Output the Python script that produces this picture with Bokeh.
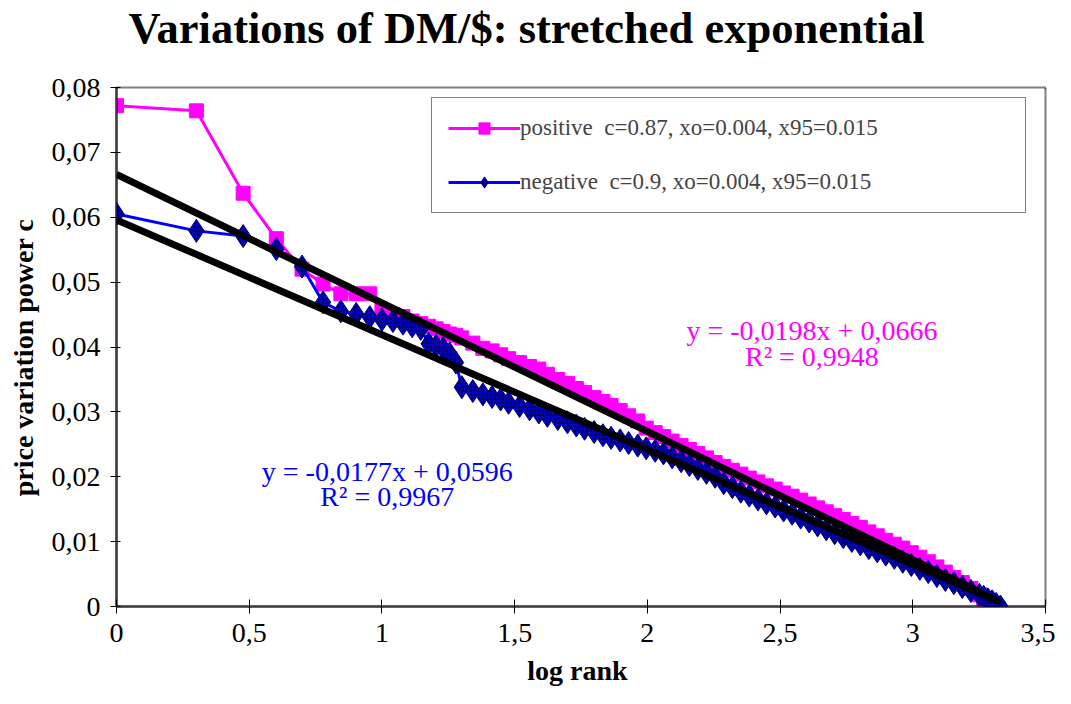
import numpy as np
from bokeh.plotting import figure
from bokeh.models import (Range1d, FixedTicker, CustomJSTickFormatter, Legend, LegendItem,
                          ColumnDataSource, Label, Title)
from bokeh.embed import file_html
from bokeh.resources import INLINE

# ---------------- data ----------------
ranks_pos = [1, 2, 3, 4, 5, 6, 7, 8, 9, 10, 11, 12, 13, 14, 15, 16, 17, 18, 19, 20,
             22, 24, 26, 28, 30, 33, 36, 39, 42, 46, 50, 54, 58, 63, 68, 73, 79, 85, 92, 99,
             107, 115, 124, 134, 144, 155, 167, 180, 194, 209, 225, 242, 261, 281, 303, 326,
             351, 378, 407, 438, 472, 508, 547, 589, 634, 683, 735, 791, 852, 917, 987,
             1063, 1144, 1232, 1326, 1428, 1537, 1655, 1782, 1850, 1920, 1990]
c_pos = [0.0772, 0.0764, 0.0637, 0.0567, 0.0520, 0.0497, 0.0482, 0.0482, 0.0482, 0.0455,
         0.0450, 0.0447, 0.0440, 0.0436, 0.0432, 0.0428, 0.0424, 0.0420, 0.0418, 0.0414,
         0.0406, 0.0398, 0.0394, 0.0388, 0.0382, 0.0376, 0.0370, 0.0366, 0.0358, 0.0350,
         0.0344, 0.0336, 0.0330, 0.0322, 0.0316, 0.0310, 0.0302, 0.0294, 0.0286, 0.0275,
         0.0268, 0.0262, 0.0255, 0.0248, 0.0242, 0.0236, 0.0229, 0.0222, 0.0216, 0.0210,
         0.0204, 0.0198, 0.0192, 0.0186, 0.0181, 0.0175, 0.0170, 0.0164, 0.0158, 0.0152,
         0.0146, 0.0140, 0.0134, 0.0128, 0.0122, 0.0115, 0.0109, 0.0102, 0.0096, 0.0090,
         0.0083, 0.0076, 0.0069, 0.0061, 0.0053, 0.0045, 0.0037, 0.0028, 0.0018, 0.0012,
         0.0006, 0.0000]

ranks_neg = [1, 2, 3, 4, 5, 6, 7, 8, 9, 10, 11, 12, 13, 14, 15, 16, 17, 18, 19, 20,
             22, 24, 26, 28, 30, 33, 36, 39, 42, 46, 50, 54, 58, 63, 68, 73, 79, 85, 92, 99,
             107, 115, 124, 134, 144, 155, 167, 180, 194, 209, 225, 242, 261, 281, 303, 326,
             351, 378, 407, 438, 472, 508, 547, 589, 634, 683, 735, 791, 852, 917, 987,
             1063, 1144, 1232, 1326, 1428, 1537, 1655, 1782, 1850, 1920, 1990, 2060, 2140]
c_neg = [0.0605, 0.0579, 0.0571, 0.0551, 0.0524, 0.0469, 0.0455, 0.0451, 0.0446, 0.0442,
         0.0440, 0.0436, 0.0432, 0.0428, 0.0405, 0.0402, 0.0398, 0.0390, 0.0376, 0.0338,
         0.0332, 0.0327, 0.0323, 0.0319, 0.0314, 0.0309, 0.0304, 0.0299, 0.0294, 0.0289,
         0.0284, 0.0279, 0.0274, 0.0269, 0.0264, 0.0260, 0.0256, 0.0252, 0.0248, 0.0244,
         0.0240, 0.0236, 0.0230, 0.0224, 0.0218, 0.0212, 0.0206, 0.0200, 0.0190, 0.0184,
         0.0177, 0.0171, 0.0165, 0.0159, 0.0154, 0.0148, 0.0143, 0.0137, 0.0131, 0.0125,
         0.0119, 0.0113, 0.0107, 0.0101, 0.0096, 0.0090, 0.0085, 0.0080, 0.0075, 0.0069,
         0.0064, 0.0058, 0.0053, 0.0047, 0.0041, 0.0036, 0.0030, 0.0024, 0.0018, 0.0015,
         0.0011, 0.0008, 0.0004, 0.0000]

fit_pos = {"slope": -0.0198, "intercept": 0.0666, "r2": "0,9948"}
fit_neg = {"slope": -0.0177, "intercept": 0.0596, "r2": "0,9967"}

title_text = "Variations  of  DM/$:  stretched  exponential"
label_pos = "positive  c=0.87, xo=0.004, x95=0.015"
label_neg = "negative  c=0.9, xo=0.004, x95=0.015"
x_ticks = [0, 0.5, 1, 1.5, 2, 2.5, 3, 3.5]
y_ticks = [0, 0.01, 0.02, 0.03, 0.04, 0.05, 0.06, 0.07, 0.08]

MAG = "#FF00FF"
BLUE = "#0000FF"
FONT = "Liberation Serif"

x_pos = np.log10(np.array(ranks_pos, dtype=float))
x_neg = np.log10(np.array(ranks_neg, dtype=float))

p = figure(width=1055, height=688, output_backend="svg", toolbar_location=None,
           x_range=Range1d(0, 3.5), y_range=Range1d(0, 0.08),
           min_border_left=116, min_border_right=10, min_border_top=87, min_border_bottom=81)
p.xgrid.visible = False
p.ygrid.visible = False
p.background_fill_color = "white"
p.border_fill_color = "white"
p.outline_line_color = "black"
p.outline_line_width = 2
p.outline_line_dash = "1 1"

# title: main title on top, an empty spacer between it and the frame
main_title = Title(text=title_text, text_font=FONT, text_font_size="44.5px",
                   text_font_style="bold", text_color="black", align="left", offset=12,
                   vertical_align="top", standoff=0)
spacer = Title(text=" ", text_font=FONT, text_font_size="10px", standoff=20)
p.add_layout(spacer, "above")
p.add_layout(main_title, "above")

# series
src_p = ColumnDataSource(dict(x=x_pos, y=c_pos))
src_n = ColumnDataSource(dict(x=x_neg, y=c_neg))
lp = p.line("x", "y", source=src_p, line_color=MAG, line_width=3)
sp = p.scatter("x", "y", source=src_p, marker="square", size=14, fill_color=MAG, line_color=MAG)
ln = p.line("x", "y", source=src_n, line_color=BLUE, line_width=3)
sn = p.scatter("x", "y", source=src_n, marker="diamond", size=23, fill_color=BLUE,
               line_color="#000080", line_width=1, hatch_pattern="criss_cross",
               hatch_color="black", hatch_scale=4, hatch_weight=1, hatch_alpha=0.4)

# trend lines
for fit, xs in ((fit_pos, x_pos), (fit_neg, x_neg)):
    xe = np.array([0.0, xs.max()])
    p.line(xe, fit["slope"] * xe + fit["intercept"], line_color="black", line_width=7)

# trend labels
def eq_text(fit):
    s = f"{fit['slope']:.4f}".replace(".", ",")
    i = f"{fit['intercept']:.4f}".replace(".", ",")
    return f"y = {s}x + {i}"

for fit, color, xc, y1, y2 in ((fit_pos, MAG, 2.62, 0.0426, 0.0386),
                               (fit_neg, BLUE, 1.02, 0.0208, 0.0169)):
    p.add_layout(Label(x=xc, y=y1, text=eq_text(fit), text_color=color, text_font=FONT,
                       text_font_size="28px", text_align="center", text_baseline="middle"))
    p.add_layout(Label(x=xc, y=y2, text="R\u00b2 = " + fit["r2"], text_color=color,
                       text_font=FONT, text_font_size="28px", text_align="center",
                       text_baseline="middle"))

# axes
p.xaxis.ticker = FixedTicker(ticks=x_ticks)
p.yaxis.ticker = FixedTicker(ticks=y_ticks)
p.xaxis.formatter = CustomJSTickFormatter(code="return tick.toString().replace('.', ',');")
p.yaxis.formatter = CustomJSTickFormatter(
    code="if (Math.abs(tick) < 1e-9) {return '0';} return tick.toFixed(2).replace('.', ',');")
for ax in (p.xaxis[0], p.yaxis[0]):
    ax.axis_line_color = "black"
    ax.axis_line_width = 3
    ax.axis_line_dash = "1 1"
    ax.major_tick_line_color = "black"
    ax.major_tick_line_width = 1
    ax.minor_tick_line_color = None
    ax.major_label_text_font = FONT
    ax.major_label_text_font_size = "28px"
    ax.major_label_text_color = "black"
    ax.axis_label_text_font = FONT
    ax.axis_label_text_font_size = "28px"
    ax.axis_label_text_font_style = "bold"
    ax.axis_label_text_color = "black"
p.xaxis.major_label_text_line_height = 0.9
p.xaxis.axis_label_text_line_height = 0.9
p.xaxis.major_tick_in = 7
p.xaxis.major_tick_out = 7
p.yaxis.major_tick_in = 4
p.yaxis.major_tick_out = 6
p.xaxis.major_label_standoff = 10
p.yaxis.major_label_standoff = 10
p.xaxis.axis_label = "log  rank"
p.yaxis.axis_label = "price  variation  power  c"
p.xaxis.axis_label_standoff = 10
p.yaxis.axis_label_standoff = 10

legend = Legend(items=[LegendItem(label=label_pos, renderers=[lp, sp]),
                       LegendItem(label=label_neg, renderers=[ln, sn])],
                location=(315, 393))
legend.label_text_font = FONT
legend.label_text_font_size = "23px"
legend.padding = 16
legend.spacing = 26
legend.glyph_width = 72
legend.glyph_height = 28
legend.label_height = 28
legend.label_standoff = 0
legend.label_width = 489
legend.border_line_color = "black"
legend.border_line_width = 1.5
legend.background_fill_color = "white"
legend.background_fill_alpha = 1
legend.margin = 0
p.add_layout(legend)

open("out.html", "w").write(file_html(p, INLINE))
